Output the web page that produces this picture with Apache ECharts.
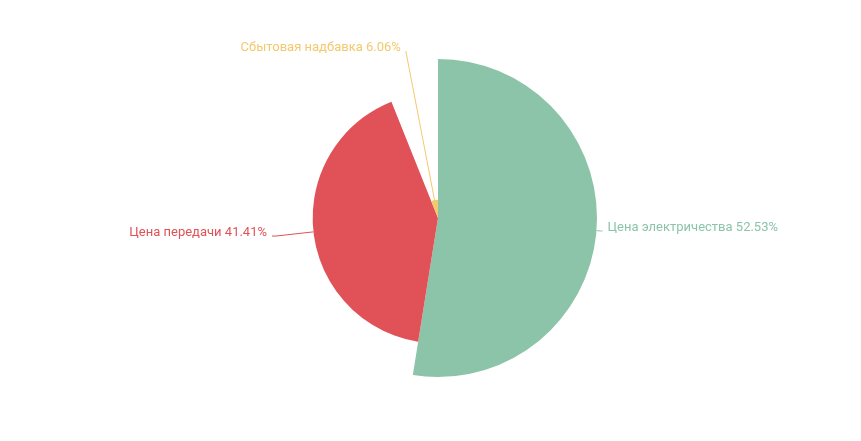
<!DOCTYPE html>
<html><head><meta charset="utf-8">
<script src="https://cdn.jsdelivr.net/npm/echarts@6/dist/echarts.min.js"></script>
<style>html,body{margin:0;padding:0;background:#fff}#c{width:861px;height:441px}</style>
</head><body><div id="c"></div>
<script>
const categories = ['Цена электричества', 'Цена передачи', 'Сбытовая надбавка'];
const values = [52.53, 41.41, 6.06];
const colors = ['#8cc4a9', '#e15258', '#f4c86c'];
const chart = echarts.init(document.getElementById('c'));
chart.setOption({
  animation: false,
  series: [{
    type: 'pie',
    roseType: 'radius',
    center: [438, 218],
    radius: [0, 159],
    startAngle: 90,
    data: categories.map((n, i) => ({
      name: n, value: values[i],
      itemStyle: { color: colors[i] },
      label: { color: colors[i] },
      labelLine: i === 2 ? { length: 11, length2: 0 } : (i === 0 ? { length: 4, length2: 2 } : undefined)
    })),
    label: {
      formatter: '{t|{b} {d}%}\n{e|}',
      fontFamily: 'Roboto', fontSize: 13,
      rich: { t: { fontFamily: 'Roboto', fontSize: 13, lineHeight: 15 }, e: { fontSize: 1, lineHeight: 7 } }
    },
    labelLine: { length: 4, length2: 4 }
  }]
});
</script></body></html>
